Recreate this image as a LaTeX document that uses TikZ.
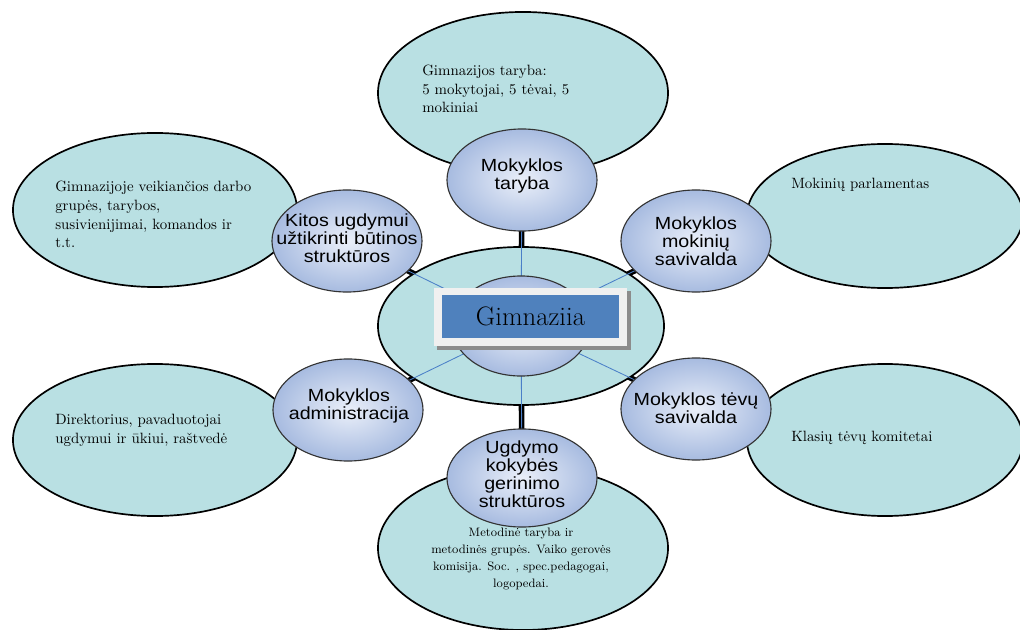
\documentclass[tikz,border=0pt]{standalone}
\usepackage{fontspec}
\setsansfont{Liberation Sans}[FakeStretch=1.12]
\usetikzlibrary{shapes.geometric}
\definecolor{teal1}{HTML}{B9E0E3}
\definecolor{blueout}{HTML}{A7BBE0}
\definecolor{bluein}{HTML}{EAEFF9}
\definecolor{boxblue}{HTML}{4F81BD}
\definecolor{spoke}{HTML}{4A7FC8}
\begin{document}
\begin{tikzpicture}[x=0.025cm,y=-0.025cm,
    big/.style={ellipse,draw=black,line width=1.2pt,fill=teal1,inner sep=0pt},
    small/.style={ellipse,draw=black!80,line width=0.8pt,shading=radial,inner color=bluein,outer color=blueout,
      minimum width=3.75cm,minimum height=2.55cm,inner sep=0pt},
    smalltxt/.style={font=\sffamily\fontsize{12.5}{12.8}\selectfont,align=center},
    bigtxt/.style={font=\fontsize{10.6}{13.5}\selectfont,align=left,inner sep=0pt,anchor=base west},
    heavy/.style={line width=4pt,black},
    thin/.style={line width=0.6pt,spoke}]
\useasboundingbox (0,0) rectangle (1020,630);
% outer ellipses
\node[big,minimum width=7.25cm,minimum height=4.05cm] (taryba) at (523,93) {};
\node[big,minimum width=7.1cm,minimum height=3.85cm] (grupes) at (155,210) {};
\node[big,minimum width=6.9cm,minimum height=3.6cm] (parl) at (885,216) {};
\node[big,minimum width=7.1cm,minimum height=3.8cm] (dir) at (155,440) {};
\node[big,minimum width=6.9cm,minimum height=3.8cm] (klas) at (885,440) {};
\node[big,minimum width=7.25cm,minimum height=4.1cm] (metod) at (523,548) {};
% texts in outer ellipses (placed by their last baseline)
\node[bigtxt] (tarybatxt) at (422,113) {Gimnazijos taryba:\\5 mokytojai, 5 t\.evai, 5\\mokiniai};
\node[bigtxt] (grupestxt) at (55,248) {Gimnazijoje veikian\v{c}ios darbo\\grup\.es, tarybos,\\susivienijimai, komandos ir\\t.t.};
\node[bigtxt] (parltxt) at (791,189) {Mokini\k{u} parlamentas};
\node[bigtxt] (dirtxt) at (55,443) {Direktorius, pavaduotojai\\ugdymui ir \=ukiui, ra\v{s}tved\.e};
\node[bigtxt] (klastxt) at (791,441) {Klasi\k{u} t\.ev\k{u} komitetai};
\node[font=\fontsize{8.7}{12}\selectfont,align=center,inner sep=0pt,anchor=base] (metodtxt) at (521,587)
  {Metodin\.e taryba ir\\metodin\.es grup\.es. Vaiko gerov\.es\\komisija. Soc. , spec.pedagogai,\\logopedai.};
% centre
\coordinate (mid) at (521,326);
\node[inner sep=0pt] (pt) at (522,180) {};
\node[inner sep=0pt] (pk) at (347,241) {};
\node[inner sep=0pt] (pm) at (696,241) {};
\node[inner sep=0pt] (pa) at (348,410) {};
\node[inner sep=0pt] (pp) at (696,409) {};
\node[inner sep=0pt] (pu) at (522,478) {};
\foreach \n in {pt,pk,pm,pa,pp,pu}
  \draw[heavy] (mid) -- (\n);
\node[big,minimum width=7.15cm,minimum height=3.95cm] (gimn) at (mid) {};
\foreach \n in {pt,pk,pm,pa,pp,pu}
  \draw[thin] (mid) -- (\n);
\node[small,minimum width=3.45cm,minimum height=2.5cm] (core) at (mid) {};
% inner ellipses
\node[small] (mt) at (pt) {};
\node[smalltxt] (mttxt) at (522,176) {Mokyklos\\taryba};
\node[small] (ku) at (pk) {};
\node[smalltxt] (kutxt) at (347,238) {Kitos ugdymui\\u\v{z}tikrinti b\=utinos\\strukt\=uros};
\node[small] (ms) at (pm) {};
\node[smalltxt] (mstxt) at (696,241) {Mokyklos\\mokini\k{u}\\savivalda};
\node[small] (ma) at (pa) {};
\node[smalltxt] (matxt) at (349,406) {Mokyklos\\administracija};
\node[small] (ts) at (pp) {};
\node[smalltxt] (tstxt) at (696,408) {Mokyklos t\.ev\k{u}\\savivalda};
\node[small,minimum height=2.45cm] (ug) at (pu) {};
\node[smalltxt] (ugtxt) at (522,474) {Ugdymo\\kokyb\.es\\gerinimo\\strukt\=uros};
% title box
\fill[black!45] (437,291) rectangle (631,350);
\fill[black!6] (434,288) rectangle (627,346);
\node[fill=boxblue,minimum width=4.425cm,minimum height=1.075cm,inner sep=0pt,
  font=\fontsize{19}{22}\selectfont] (title) at (530.5,316.5) {Gimnaziia};
\end{tikzpicture}
\end{document}
